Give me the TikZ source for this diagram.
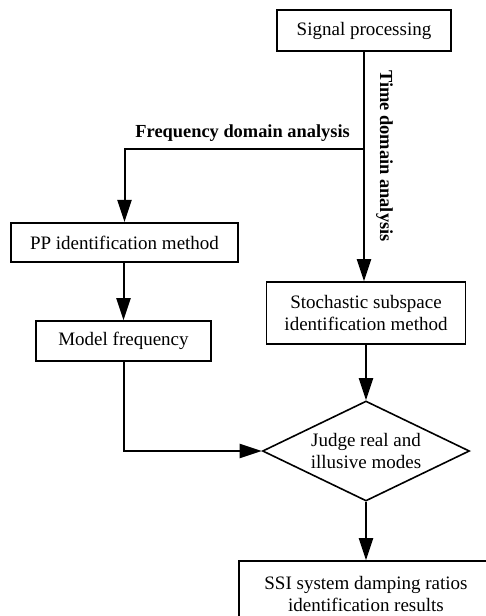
\documentclass[tikz,border=0pt]{standalone}
\usepackage{fontspec}
\setmainfont{Liberation Serif}
\usetikzlibrary{arrows.meta,calc,positioning,shapes.geometric}
\tikzset{%
	block/.style    = {draw, rectangle, line width=1.6pt, align=center, inner sep=0pt}, % Box
	decision/.style = {draw, diamond, aspect=2.07, line width=1.6pt, align=center, inner sep=0pt,
	                   minimum width=207pt, minimum height=100pt}, % Check
	flow/.style     = {line width=2pt, -{Triangle[length=22pt,width=14pt]}}, % Arrow
	branchtext/.style = {font=\fontsize{18.4}{21}\selectfont\bfseries, inner sep=0pt}, % Branch name
	waypoint/.style = {coordinate},
}
\begin{document}
\begin{tikzpicture}[x=1pt, y=-1pt, font=\fontsize{19}{21.5}\selectfont]
		\path[fill=white, use as bounding box] (0,0) rectangle (485,616);
		\node[block, minimum width=174pt, minimum height=41pt] (sig) at (364,30.5) {Signal processing};
		\node[block, minimum width=227pt, minimum height=39.5pt] (pp) at (124.5,242.5) {PP identification method};
		\node[block, minimum width=175pt, minimum height=40pt] (freq) at (123.5,341) {Model frequency};
		\node[block, minimum width=199pt, minimum height=62pt] (ssi) at (366,313) {Stochastic subspace\\identification method};
		\node[decision] (judge) at (366,451) {Judge real and\\illusive modes};
		\node[block, minimum width=254pt, minimum height=66pt] (res) at (366,594) {SSI system damping ratios\\identification results};
		\node[waypoint] (fork) at (364,149) {};
		\node[branchtext, anchor=base east] (fda) at (350,137) {Frequency domain analysis};
		\node[branchtext, rotate=-90, anchor=south] (tda) at (376,156) {Time domain analysis};
		\draw[flow] (sig.south) -- (sig.south |- ssi.north);
		\draw[flow] (fork) -| (pp.north);
		\draw[flow] (pp.south -| freq.north) -- (freq.north);
		\draw[flow] (freq.south) |- (judge.west);
		\draw[flow] (ssi.south) -- (judge.north);
		\draw[flow] (judge.south) -- (res.north);
\end{tikzpicture}
\end{document}
